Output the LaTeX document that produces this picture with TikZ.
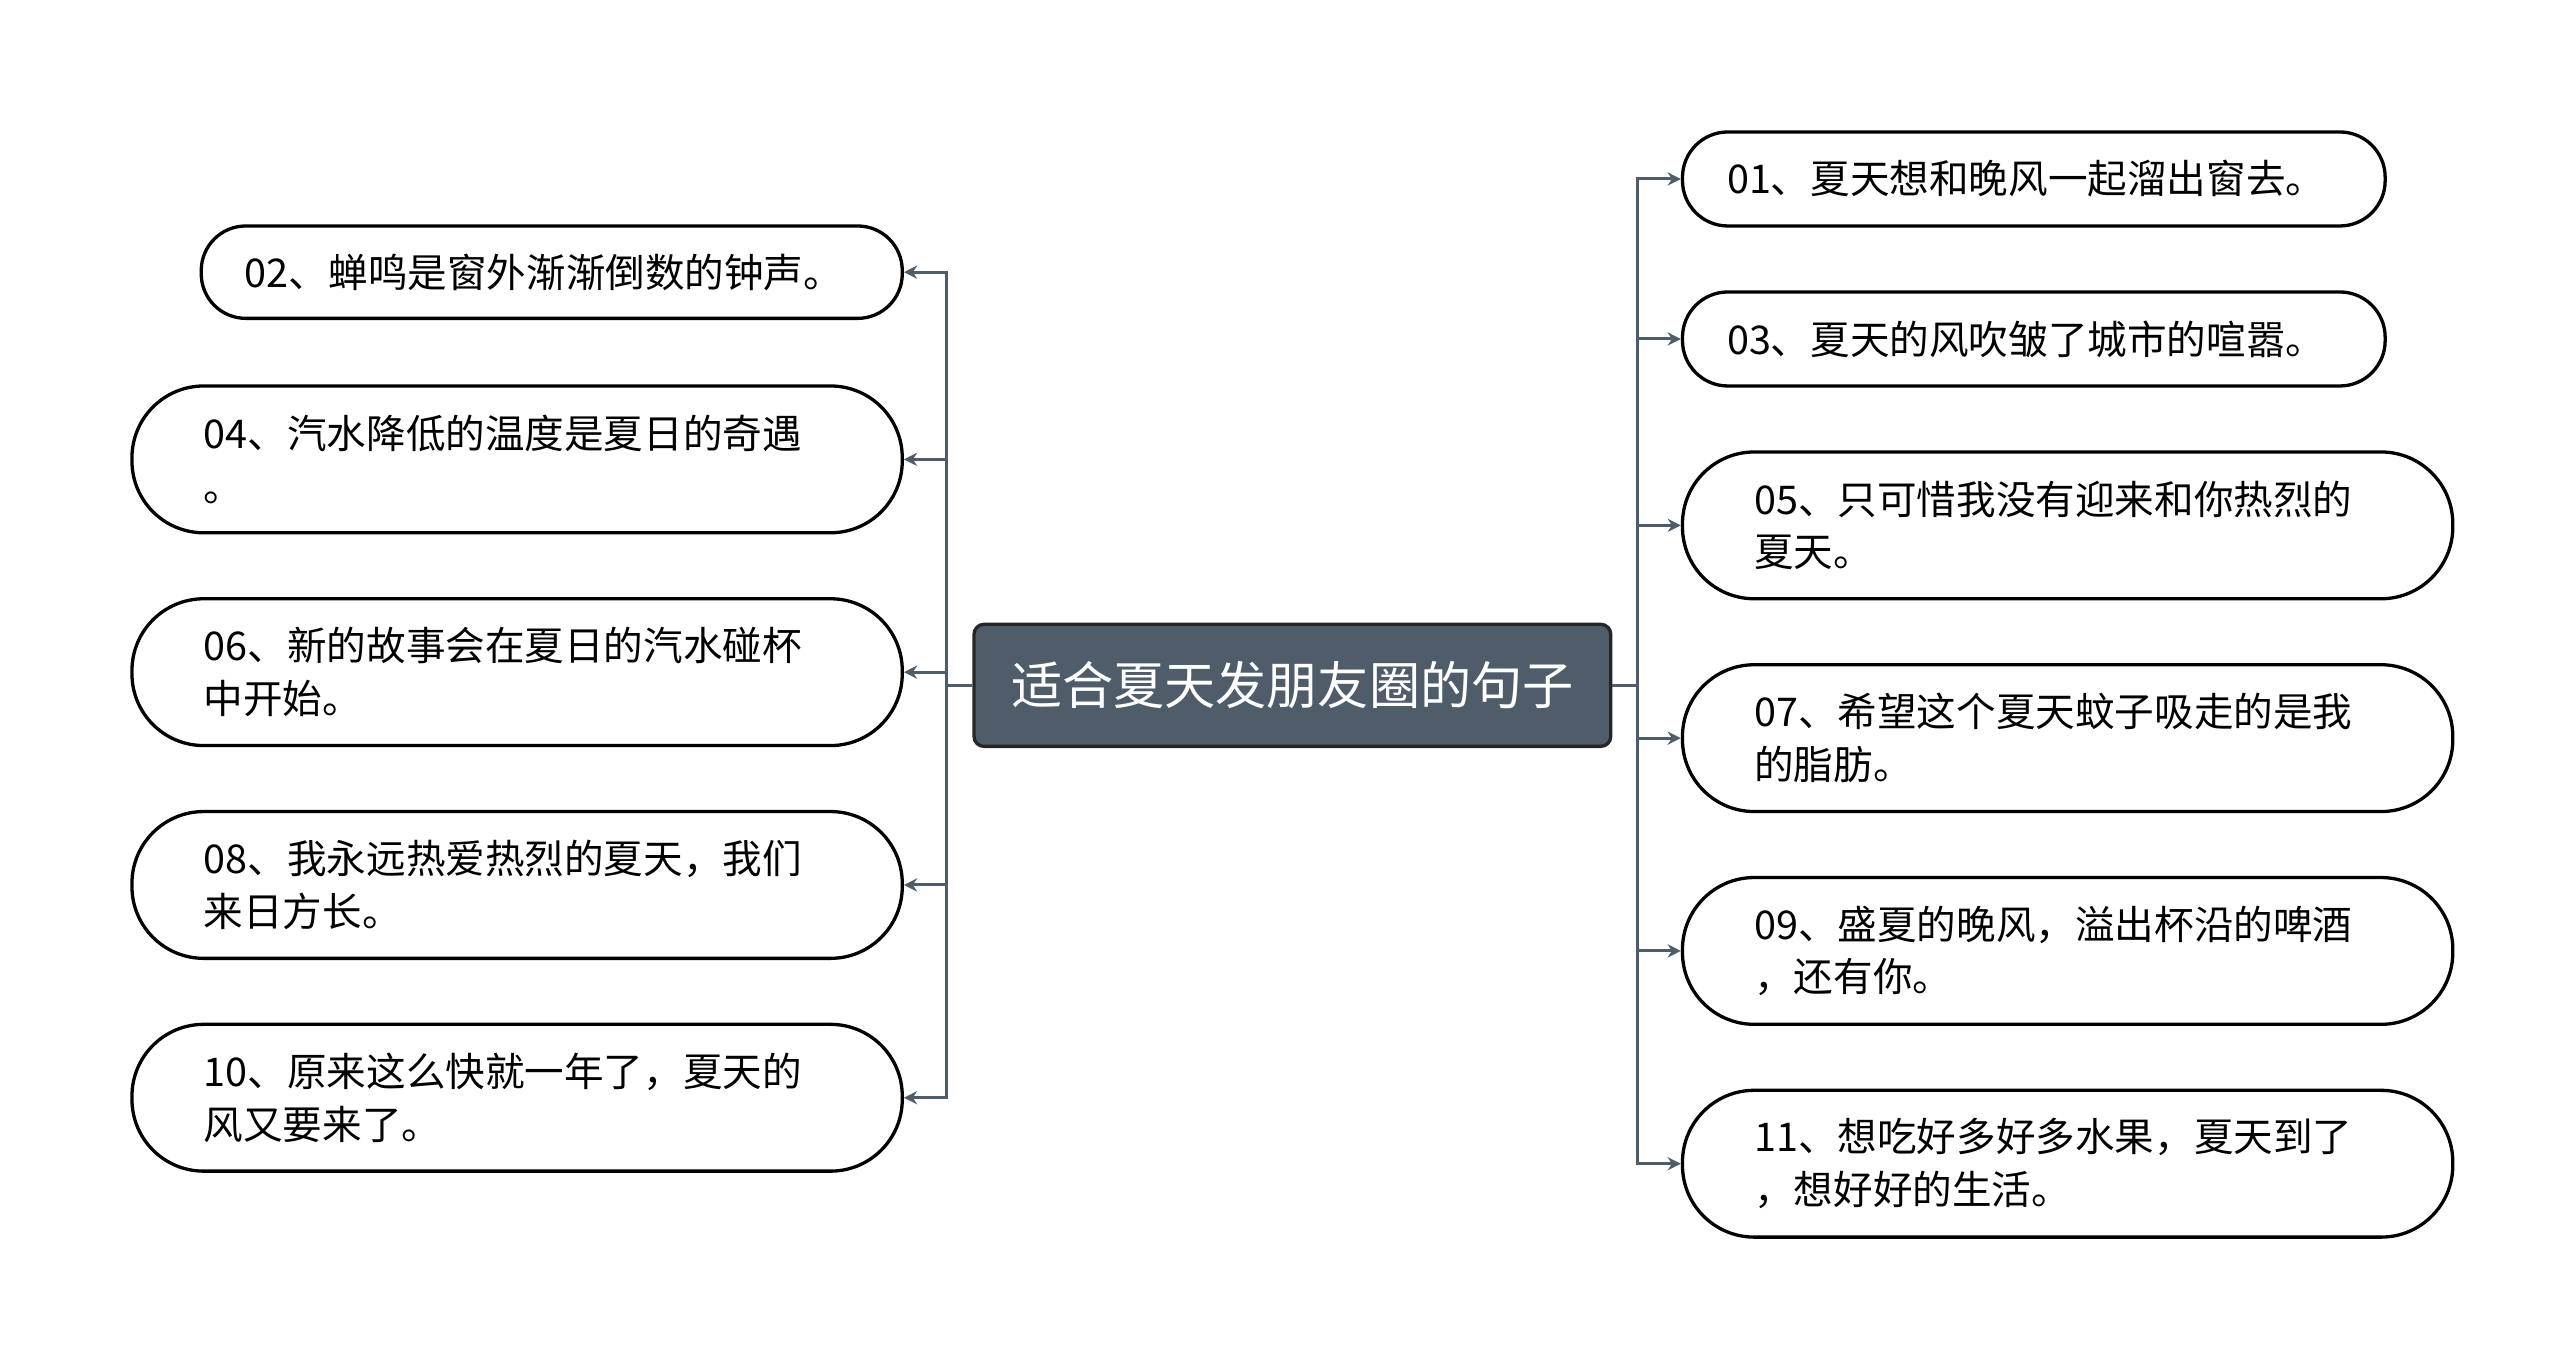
\documentclass[tikz,border=0pt]{standalone}
\usepackage{fontspec}
\setmainfont{Noto Sans CJK SC}
\usetikzlibrary{arrows.meta}
\definecolor{hubfill}{HTML}{4F5D6B}
\definecolor{linkgray}{HTML}{4F5D6B}
\tikzset{
	leaf/.style={draw=black, line width=1pt, fill=white, rounded corners=#1*0.25pt-0.5pt, minimum height=#1*0.5pt, text width=190pt, align=left, font=\fontsize{12}{16}\selectfont, inner xsep=0pt},
	hub/.style={draw=black!85, line width=1pt, fill=hubfill, text=white, rounded corners=3pt, minimum width=193pt, minimum height=37pt, font=\fontsize{15.5}{18}\selectfont},
	link/.style={draw=linkgray, line width=0.9pt, -{Stealth[length=4pt,width=4pt]}}
}
\begin{document}
\begin{tikzpicture}[x=0.5pt,y=-0.5pt]
	\useasboundingbox (0,0) rectangle (1552,824);
	\node[hub] (hub) at (783.5,415.5) {适合夏天发朋友圈的句子};
	% left side
	\node[leaf=56, minimum width=212.5pt, text width=186pt] (n02) at (334.5,165) {02、蝉鸣是窗外渐渐倒数的钟声。};
	\node[leaf=89, minimum width=233.5pt] (n04) at (313.5,278.5) {04、汽水降低的温度是夏日的奇遇\\。};
	\node[leaf=89, minimum width=233.5pt] (n06) at (313.5,407.5) {06、新的故事会在夏日的汽水碰杯\\中开始。};
	\node[leaf=89, minimum width=233.5pt] (n08) at (313.5,536.5) {08、我永远热爱热烈的夏天，我们\\来日方长。};
	\node[leaf=89, minimum width=233.5pt] (n10) at (313.5,665.5) {10、原来这么快就一年了，夏天的\\风又要来了。};
	% right side
	\node[leaf=57, minimum width=213pt, text width=186pt] (n01) at (1233,108.5) {01、夏天想和晚风一起溜出窗去。};
	\node[leaf=57, minimum width=213pt, text width=186pt] (n03) at (1233,205.5) {03、夏天的风吹皱了城市的喧嚣。};
	\node[leaf=89, minimum width=233.5pt] (n05) at (1253.5,318.5) {05、只可惜我没有迎来和你热烈的\\夏天。};
	\node[leaf=89, minimum width=233.5pt] (n07) at (1253.5,447.5) {07、希望这个夏天蚊子吸走的是我\\的脂肪。};
	\node[leaf=89, minimum width=233.5pt] (n09) at (1253.5,576.5) {09、盛夏的晚风，溢出杯沿的啤酒\\，还有你。};
	\node[leaf=89, minimum width=233.5pt] (n11) at (1253.5,705.5) {11、想吃好多好多水果，夏天到了\\，想好好的生活。};
	% connectors
	\coordinate (lbus) at (574,415.5);
	\coordinate (rbus) at (993,415.5);
	\draw[linkgray, line width=0.9pt] (hub.west) -- (lbus) (hub.east) -- (rbus);
	\foreach \n in {n02,n04,n06,n08,n10}
		\draw[link] (lbus) |- (\n.east);
	\foreach \n in {n01,n03,n05,n07,n09,n11}
		\draw[link] (rbus) |- (\n.west);
\end{tikzpicture}
\end{document}
